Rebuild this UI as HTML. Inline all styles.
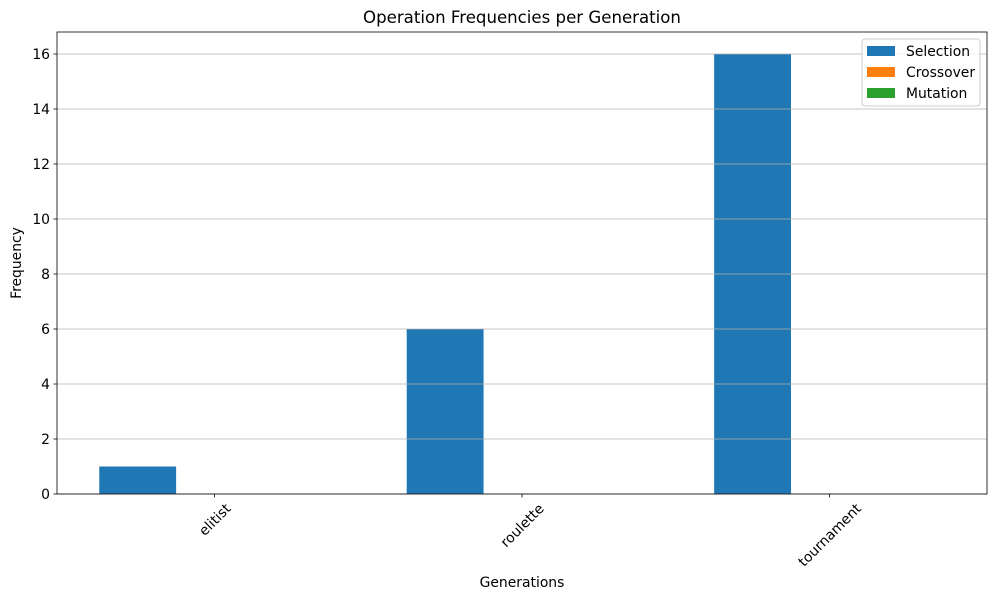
<!DOCTYPE html>
<html><head><meta charset="utf-8"><style>
body{margin:0;background:#fff;font-family:"Liberation Sans","DejaVu Sans",sans-serif}
svg text{font-family:"DejaVu Sans","Liberation Sans",sans-serif}
</style></head><body>
<svg id="c" width="997" height="601" xmlns="http://www.w3.org/2000/svg"></svg>
<script>
const categories=["elitist","roulette","tournament"];
const selection=[1,6,16];
const crossover=[0,0,0];
const mutation=[0,0,0];
const yTicks=[0,2,4,6,8,10,12,14,16];
const seriesNames=["Selection","Crossover","Mutation"];
const colors=["#1f77b4","#ff7f0e","#2ca02c"];
const L=57,R=987,T=32,B=494,xmin=-0.5125,xmax=2.5125,ymax=16.8;
const sx=v=>L+(v-xmin)/(xmax-xmin)*(R-L);
const sy=v=>B-v/ymax*(B-T);
const s=document.getElementById('c');const NS="http://www.w3.org/2000/svg";
function mk(t,a,p){const e=document.createElementNS(NS,t);for(const k in a)e.setAttribute(k,a[k]);(p||s).appendChild(e);return e;}
const series=[selection,crossover,mutation];const w=0.25;
series.forEach((arr,si)=>arr.forEach((v,i)=>{const c=i+(si-1)*w;
const r=mk('rect',{x:sx(c-w/2),y:sy(v),width:sx(c+w/2)-sx(c-w/2),height:B-sy(v),fill:colors[si]});

}));
yTicks.forEach(v=>{const y=sy(v);
const g=mk('line',{x1:L,x2:R,y1:y,y2:y,stroke:'#b0b0b0','stroke-width':0.8});


mk('line',{x1:L-3.5,x2:L,y1:y,y2:y,stroke:'#000','stroke-width':0.8});
const t=mk('text',{x:L-7,y:y+5,'text-anchor':'end','font-size':13.9});t.textContent=v;

});
categories.forEach((c,i)=>{const x=sx(i);
mk('line',{x1:x,x2:x,y1:B,y2:B+3.5,stroke:'#000','stroke-width':0.8});
const t=mk('text',{x:0,y:0,'text-anchor':'middle','font-size':13.9});t.textContent=c;


const tw=t.getComputedTextLength();const fh=13.9;
const half=(tw*0.7071+fh*0.7071)/2;
t.setAttribute('transform',`translate(${x},${B+7+half}) rotate(-45) translate(0,${fh*0.36})`);});
mk('rect',{x:L,y:T,width:R-L,height:B-T,fill:'none',stroke:'#000','stroke-width':0.8});
let t=mk('text',{x:(L+R)/2,y:23,'text-anchor':'middle','font-size':16.6});t.textContent="Operation Frequencies per Generation";

t=mk('text',{x:(L+R)/2,y:587,'text-anchor':'middle','font-size':13.9});t.textContent="Generations";

t=mk('text',{x:0,y:0,'text-anchor':'middle','font-size':13.9,transform:`translate(21,${(T+B)/2}) rotate(-90)`});t.textContent="Frequency";

const lg=mk('g',{});
mk('rect',{x:862,y:39,width:118,height:67,rx:3,fill:'#fff','fill-opacity':0.8,stroke:'#ccc'},lg);
seriesNames.forEach((n,i)=>{const y=46+i*21;
mk('rect',{x:867,y:y,width:28,height:10,fill:colors[i]},lg);
const e=mk('text',{x:906,y:y+10,'font-size':13.9},lg);e.textContent=n;

});
</script>
</body></html>
